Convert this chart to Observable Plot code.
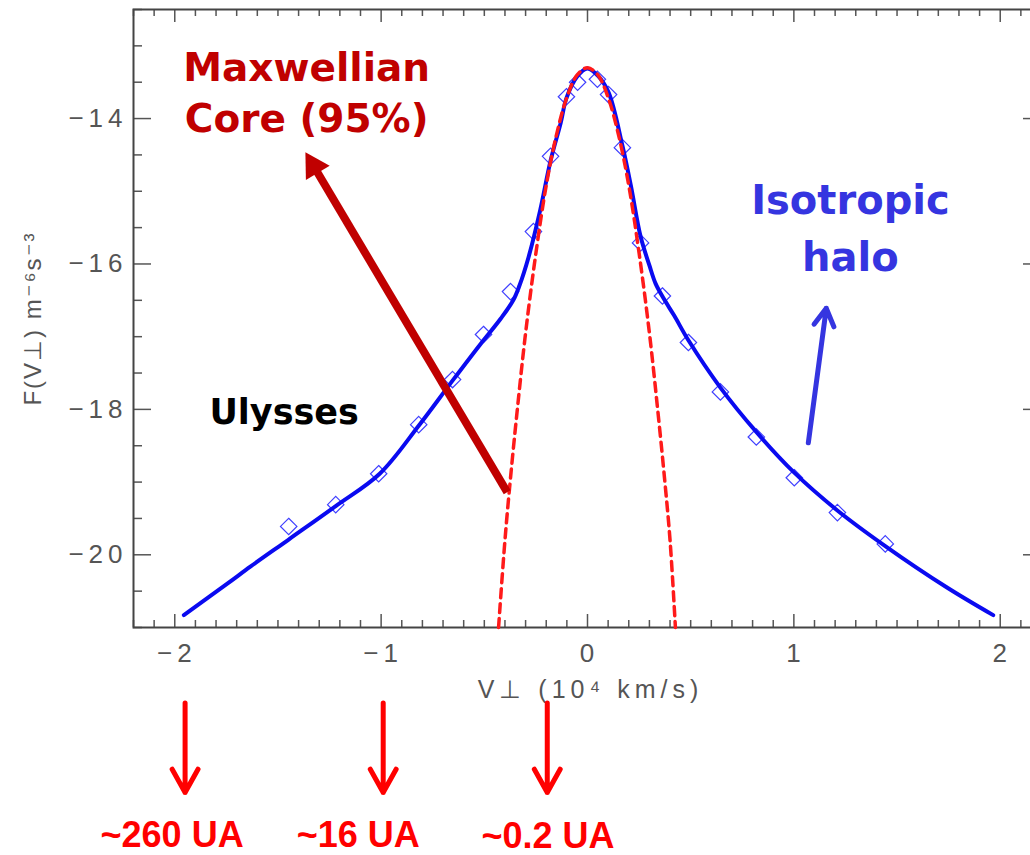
<!DOCTYPE html>
<html>
<head>
<meta charset="utf-8">
<script src="https://cdn.jsdelivr.net/npm/d3@7"></script>
<script src="https://cdn.jsdelivr.net/npm/@observablehq/plot@0.6"></script>
<style>
  html, body { margin: 0; padding: 0; background: #fff; overflow: hidden; }
  #chart svg { max-width: none !important; }
</style>
</head>
<body>
<div id="chart"></div>
<script>
// Ulysses electron distribution: perpendicular velocity cut, log10 F(V⊥)

// measured points (diamonds)
const vMeasured = [-1.448, -1.220, -1.012, -0.818, -0.654, -0.504, -0.373, -0.262, -0.179, -0.102, -0.048,
                    0.048, 0.102, 0.169, 0.257, 0.363, 0.489, 0.644, 0.818, 1.002, 1.211, 1.443];
const fMeasured = [-19.61, -19.31, -18.885, -18.21, -17.59, -16.97, -16.38, -15.555, -14.52, -13.70, -13.50,
                   -13.46, -13.67, -14.40, -15.71, -16.44, -17.08, -17.76, -18.38, -18.94, -19.42, -19.85];

// core + halo fit (solid blue)
const vFit = [-1.956, -1.742, -1.632, -1.448, -1.220, -1.007, -0.818, -0.654, -0.518, -0.42, -0.36, -0.33,
              -0.286, -0.23, -0.179, -0.13, -0.102, -0.05, 0, 0.05, 0.102, 0.169, 0.21, 0.257, 0.30, 0.33,
              0.37, 0.42, 0.489, 0.644, 0.818, 1.002, 1.211, 1.443, 1.742, 1.966];
const fFit = [-20.83, -20.39, -20.16, -19.79, -19.33, -18.885, -18.225, -17.605, -17.10, -16.75, -16.50, -16.30,
              -15.91, -15.27, -14.58, -14.06, -13.72, -13.42, -13.31, -13.41, -13.64, -14.37, -14.92, -15.62, -16.02, -16.27,
              -16.48, -16.71, -17.05, -17.70, -18.31, -18.87, -19.39, -19.88, -20.45, -20.83];

// Maxwellian core alone (dashed red)
const vCore = [-0.431, -0.40, -0.373, -0.34, -0.30, -0.25, -0.20, -0.15, -0.10, -0.05, 0,
                0.05, 0.10, 0.15, 0.20, 0.25, 0.30, 0.34, 0.373, 0.40, 0.426];
const fCore = [-21.0, -19.80, -18.94, -18.00, -16.95, -15.85, -14.92, -14.22, -13.71, -13.40, -13.30,
               -13.40, -13.71, -14.22, -14.92, -15.85, -16.95, -18.00, -18.94, -19.80, -21.0];

// axes
const xMajorTicks = [-2, -1, 0, 1, 2];
const yMajorTicks = [-20, -18, -16, -14];
const xLabel = "V⊥ (10⁴ km/s)";
const yLabel = "F(V⊥) m⁻⁶s⁻³";

// annotations
const coreLabel = "Maxwellian\nCore (95%)";
const haloLabel = "Isotropic\nhalo";
const missionLabel = "Ulysses";
const coreArrowV = [-0.389, -1.327];   // tail, head
const coreArrowF = [-19.14, -14.653];
const haloArrowV = [1.070, 1.157];
const haloArrowF = [-18.46, -16.61];

// heliocentric distance markers under the axis
const distanceV = [-1.95, -0.99, -0.195];
const distanceText = ["~260 UA", "~16 UA", "~0.2 UA"];
const distanceTextV = [-2.013, -1.111, -0.191];
const distanceTextF = [-24.02, -24.02, -24.03];
const distanceArrowTopF = -22.04;
const distanceArrowTipF = -23.27;

const measured = vMeasured.map((v, i) => ({v, f: fMeasured[i]}));
const fit = vFit.map((v, i) => ({v, f: fFit[i]}));
const core = vCore.map((v, i) => ({v, f: fCore[i]}));
const distances = distanceV.map((v, i) => ({v, text: distanceText[i], tv: distanceTextV[i], tf: distanceTextF[i]}));

const xMinorTicks = d3.range(-22, 23).map(i => i / 10).filter(d => !Number.isInteger(d));
const yMinorTicks = d3.range(-42, -24).map(i => i / 2).filter(d => !yMajorTicks.includes(d));

const W = 1046, H = 855;
const mL = 133, mR = 5, mT = 9, mB = 228;
const FW = W - mL - mR, FH = H - mT - mB;
const fmt = d => (d < 0 ? "\u2212" + Math.abs(d) : String(d));

const tickColor = "#555";
const axisFont = "Liberation Sans, Arial, sans-serif";
const noteFont = "DejaVu Sans, sans-serif";

const chart = Plot.plot({
  width: W,
  height: H,
  marginLeft: mL,
  marginRight: mR,
  marginTop: mT,
  marginBottom: mB,
  style: {background: "#fff", overflow: "visible", fontFamily: axisFont, maxWidth: "none"},
  x: {domain: [-2.2, 2.2], axis: null},
  y: {domain: [-21, -12.5], axis: null},
  marks: [
    // ticks on all four sides, pointing inward
    Plot.tickX(xMinorTicks, {x: d => d, insetTop: FH - 7, stroke: tickColor, strokeWidth: 1.5}),
    Plot.tickX(xMajorTicks, {x: d => d, insetTop: FH - 13, stroke: tickColor, strokeWidth: 1.5}),
    Plot.tickX(xMinorTicks, {x: d => d, insetBottom: FH - 7, stroke: tickColor, strokeWidth: 1.5}),
    Plot.tickX(xMajorTicks, {x: d => d, insetBottom: FH - 13, stroke: tickColor, strokeWidth: 1.5}),
    Plot.tickY(yMinorTicks, {y: d => d, insetRight: FW - 9, stroke: tickColor, strokeWidth: 1.5}),
    Plot.tickY(yMajorTicks, {y: d => d, insetRight: FW - 18, stroke: tickColor, strokeWidth: 1.5}),
    Plot.tickY(yMinorTicks, {y: d => d, insetLeft: FW - 9, stroke: tickColor, strokeWidth: 1.5}),
    Plot.tickY(yMajorTicks, {y: d => d, insetLeft: FW - 18, stroke: tickColor, strokeWidth: 1.5}),
    Plot.frame({stroke: "#444", strokeWidth: 2}),

    // tick labels
    Plot.text(xMajorTicks, {x: d => d, text: fmt, frameAnchor: "bottom", dy: 16, dx: 2, lineAnchor: "top",
      fontSize: 26, fill: tickColor}),
    Plot.text(yMajorTicks, {y: d => d, text: fmt, frameAnchor: "left", dx: -6, textAnchor: "end",
      lineAnchor: "middle", fontSize: 26, fill: tickColor}),

    // axis titles
    Plot.text([xLabel], {text: d => d, frameAnchor: "bottom", dy: 70, dx: 3, lineAnchor: "bottom",
      fontSize: 25, fill: tickColor}),
    Plot.text([yLabel], {text: d => d, frameAnchor: "left", dx: -100, rotate: -90, textAnchor: "middle",
      fontSize: 24, fill: tickColor}),

    // data
    Plot.dot(measured, {x: "v", y: "f", symbol: "diamond2", r: 7.4, stroke: "#3f3fff", strokeWidth: 1.2, fill: "none"}),
    Plot.line(fit, {x: "v", y: "f", stroke: "#0a0af0", strokeWidth: 4, curve: "catmull-rom"}),
    Plot.line(core, {x: "v", y: "f", stroke: "#ff1a1a", strokeWidth: 3.5, strokeDasharray: "9,6", curve: "catmull-rom"}),

    // core annotation: label and arrow
    Plot.text([coreLabel], {text: d => d, x: () => -1.361, y: () => -14.19, lineAnchor: "bottom", lineHeight: 1.33,
      fontFamily: noteFont, fontWeight: "bold", fontSize: 39, fill: "#c00000"}),
    Plot.link([0], {x1: () => coreArrowV[0], y1: () => coreArrowF[0], x2: () => coreArrowV[1], y2: () => coreArrowF[1],
      stroke: "#c00000", strokeWidth: 8}),
    Plot.dot([0], {x: () => coreArrowV[1], y: () => coreArrowF[1], symbol: "triangle", r: 10.3, rotate: -31,
      fill: "#c00000", stroke: "none"}),

    // halo annotation
    Plot.text([haloLabel], {text: d => d, x: () => 1.274, y: () => -16.09, lineAnchor: "bottom", lineHeight: 1.42,
      fontFamily: noteFont, fontWeight: "bold", fontSize: 40, fill: "#3535e0"}),
    Plot.arrow([0], {x1: () => haloArrowV[0], y1: () => haloArrowF[0], x2: () => haloArrowV[1], y2: () => haloArrowF[1],
      stroke: "#3535e0", strokeWidth: 5, headLength: 6, headAngle: 60}),

    Plot.text([missionLabel], {text: d => d, x: () => -1.470, y: () => -18.20, lineAnchor: "bottom",
      fontFamily: noteFont, fontWeight: "bold", fontSize: 35, fill: "#000"}),

    // distance markers below the axis
    Plot.arrow(distances, {x1: "v", x2: "v", y1: () => distanceArrowTopF, y2: () => distanceArrowTipF,
      stroke: "#ff0000", strokeWidth: 5, headLength: 8, headAngle: 58}),
    Plot.text(distances, {x: "tv", y: "tf", text: "text", lineAnchor: "bottom",
      fontFamily: axisFont, fontWeight: "bold", fontSize: 36, fill: "#ff0000"})
  ]
});

// widen the letter spacing of the axis texts, in the spirit of plotting-package fonts
const tickTexts = new Set([...xMajorTicks, ...yMajorTicks].map(fmt));
chart.querySelectorAll("text").forEach(t => {
  const s = t.textContent;
  if (tickTexts.has(s)) t.style.letterSpacing = "5px";
  else if (s === xLabel) t.style.letterSpacing = "5px";
  else if (s === yLabel) t.style.letterSpacing = "2px";
});

document.getElementById("chart").appendChild(chart);
</script>
</body>
</html>
